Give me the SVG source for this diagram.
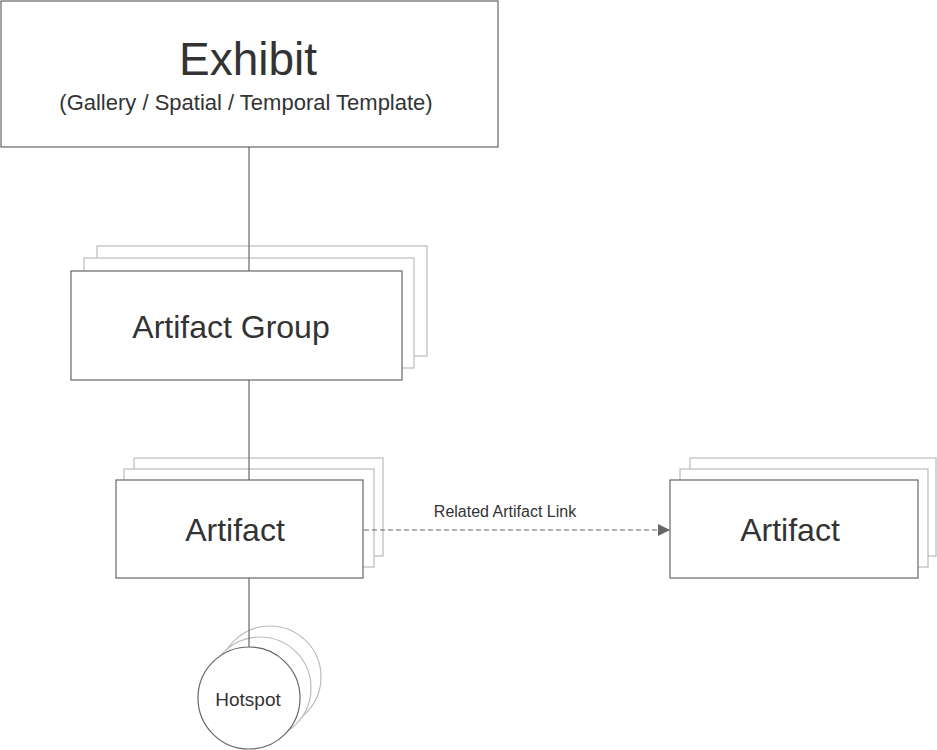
<svg xmlns="http://www.w3.org/2000/svg" width="937" height="750" viewBox="0 0 937 750">
<style>
.m{fill:#fff;stroke:#666;stroke-width:1.2}
.b{fill:#fff;stroke:#bbb;stroke-width:1.2}
.c{stroke:#666;stroke-width:1.2;fill:none}
text{font-family:"Liberation Sans",Arial,sans-serif;fill:#333;text-anchor:middle}
</style>
<defs><marker id="ar" markerWidth="12" markerHeight="12" refX="11" refY="6" orient="auto" markerUnits="userSpaceOnUse"><path d="M0,0L12,6L0,12z" fill="#666"/></marker></defs>
<rect width="937" height="750" fill="#fff"/>
<g id="exhibit">
<rect class="m" x="1" y="1" width="497" height="146"/>
<text x="248" y="75" font-size="46">Exhibit</text>
<text x="246" y="110" font-size="22">(Gallery / Spatial / Temporal Template)</text>
</g>
<g id="artifact-group">
<rect class="b" x="97" y="246" width="330" height="110"/>
<rect class="b" x="84" y="258" width="330" height="110"/>
<rect class="m" x="71" y="271" width="331" height="109"/>
<text x="231" y="338" font-size="32">Artifact Group</text>
</g>
<g id="artifact">
<rect class="b" x="134" y="458" width="249" height="98"/>
<rect class="b" x="124" y="469" width="250" height="98"/>
<rect class="m" x="116" y="480" width="247" height="98"/>
<text x="235" y="541" font-size="32">Artifact</text>
</g>
<g id="artifact-related">
<rect class="b" x="690" y="458" width="246" height="98"/>
<rect class="b" x="680" y="469" width="248" height="98"/>
<rect class="m" x="670" y="480" width="248" height="98"/>
<text x="790" y="541" font-size="32">Artifact</text>
</g>
<g id="hotspot">
<circle class="b" cx="270" cy="677" r="51"/>
<circle class="b" cx="260" cy="688" r="51"/>
<circle class="m" cx="249" cy="698" r="51"/>
<text x="248" y="706" font-size="19">Hotspot</text>
</g>
<g id="connectors">
<line class="c" x1="249" y1="147" x2="249" y2="271"/>
<line class="c" x1="249" y1="380" x2="249" y2="480"/>
<line class="c" x1="249" y1="578" x2="249" y2="647"/>
<line class="c" x1="364" y1="530" x2="669" y2="530" stroke-width="1.5" stroke-dasharray="5,3" marker-end="url(#ar)"/>
<text x="505" y="517" font-size="16">Related Artifact Link</text>
</g>
</svg>
